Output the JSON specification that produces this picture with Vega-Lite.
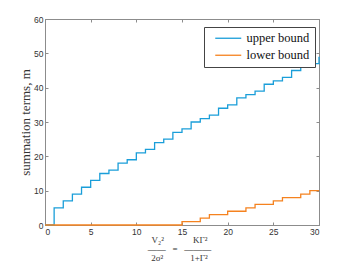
{
  "$schema": "https://vega.github.io/schema/vega-lite/v6.json",
  "width": 274,
  "height": 206,
  "autosize": {"type": "none"},
  "padding": {"left": 45, "top": 19, "right": 34, "bottom": 40},
  "background": "white",
  "config": {
    "view": {"stroke": "#8c8c8c", "strokeWidth": 1},
    "axis": {
      "grid": false,
      "domainColor": "#8c8c8c",
      "tickColor": "#8c8c8c",
      "tickSize": -3,
      "labelFont": "Liberation Sans",
      "labelFontSize": 8.5,
      "labelColor": "#333333",
      "titleFont": "Liberation Serif",
      "titleFontWeight": "normal",
      "titleColor": "#333333"
    }
  },
  "data": {
    "values": [
      {"x": 0, "m": 0, "bound": "upper bound"},
      {"x": 1, "m": 5, "bound": "upper bound"},
      {"x": 2, "m": 7, "bound": "upper bound"},
      {"x": 3, "m": 9, "bound": "upper bound"},
      {"x": 4, "m": 11, "bound": "upper bound"},
      {"x": 5, "m": 13, "bound": "upper bound"},
      {"x": 6, "m": 15, "bound": "upper bound"},
      {"x": 7, "m": 16, "bound": "upper bound"},
      {"x": 8, "m": 18, "bound": "upper bound"},
      {"x": 9, "m": 19, "bound": "upper bound"},
      {"x": 10, "m": 21, "bound": "upper bound"},
      {"x": 11, "m": 22, "bound": "upper bound"},
      {"x": 12, "m": 24, "bound": "upper bound"},
      {"x": 13, "m": 25, "bound": "upper bound"},
      {"x": 14, "m": 27, "bound": "upper bound"},
      {"x": 15, "m": 28, "bound": "upper bound"},
      {"x": 16, "m": 30, "bound": "upper bound"},
      {"x": 17, "m": 31, "bound": "upper bound"},
      {"x": 18, "m": 32, "bound": "upper bound"},
      {"x": 19, "m": 34, "bound": "upper bound"},
      {"x": 20, "m": 35, "bound": "upper bound"},
      {"x": 21, "m": 37, "bound": "upper bound"},
      {"x": 22, "m": 38, "bound": "upper bound"},
      {"x": 23, "m": 39, "bound": "upper bound"},
      {"x": 24, "m": 41, "bound": "upper bound"},
      {"x": 25, "m": 42, "bound": "upper bound"},
      {"x": 26, "m": 43, "bound": "upper bound"},
      {"x": 27, "m": 45, "bound": "upper bound"},
      {"x": 28, "m": 46, "bound": "upper bound"},
      {"x": 29, "m": 47, "bound": "upper bound"},
      {"x": 30, "m": 49, "bound": "upper bound"},
      {"x": 0, "m": 0, "bound": "lower bound"},
      {"x": 1, "m": 0, "bound": "lower bound"},
      {"x": 2, "m": 0, "bound": "lower bound"},
      {"x": 3, "m": 0, "bound": "lower bound"},
      {"x": 4, "m": 0, "bound": "lower bound"},
      {"x": 5, "m": 0, "bound": "lower bound"},
      {"x": 6, "m": 0, "bound": "lower bound"},
      {"x": 7, "m": 0, "bound": "lower bound"},
      {"x": 8, "m": 0, "bound": "lower bound"},
      {"x": 9, "m": 0, "bound": "lower bound"},
      {"x": 10, "m": 0, "bound": "lower bound"},
      {"x": 11, "m": 0, "bound": "lower bound"},
      {"x": 12, "m": 0, "bound": "lower bound"},
      {"x": 13, "m": 0, "bound": "lower bound"},
      {"x": 14, "m": 0, "bound": "lower bound"},
      {"x": 15, "m": 1, "bound": "lower bound"},
      {"x": 16, "m": 1, "bound": "lower bound"},
      {"x": 17, "m": 2, "bound": "lower bound"},
      {"x": 18, "m": 3, "bound": "lower bound"},
      {"x": 19, "m": 3, "bound": "lower bound"},
      {"x": 20, "m": 4, "bound": "lower bound"},
      {"x": 21, "m": 4, "bound": "lower bound"},
      {"x": 22, "m": 5, "bound": "lower bound"},
      {"x": 23, "m": 6, "bound": "lower bound"},
      {"x": 24, "m": 6, "bound": "lower bound"},
      {"x": 25, "m": 7, "bound": "lower bound"},
      {"x": 26, "m": 8, "bound": "lower bound"},
      {"x": 27, "m": 8, "bound": "lower bound"},
      {"x": 28, "m": 9, "bound": "lower bound"},
      {"x": 29, "m": 10, "bound": "lower bound"},
      {"x": 30, "m": 10, "bound": "lower bound"}
    ]
  },
  "layer": [
    {
      "mark": {"type": "line", "interpolate": "step-after", "strokeWidth": 1.3, "clip": false},
      "encoding": {
        "x": {
          "field": "x", "type": "quantitative",
          "scale": {"domain": [0, 30], "nice": false},
          "axis": {
            "orient": "bottom", "values": [0, 5, 10, 15, 20, 25, 30], "labelPadding": 5,
            "title": ["V₂²\u00a0\u00a0\u00a0\u00a0\u00a0\u00a0\u00a0\u00a0\u00a0\u00a0\u00a0\u00a0\u00a0KΓ²", "——\u00a0\u00a0\u00a0=\u00a0\u00a0\u00a0———", "2σ²\u00a0\u00a0\u00a0\u00a0\u00a0\u00a0\u00a0\u00a0\u00a0\u00a0\u00a0\u00a01+Γ²"],
            "titleFontSize": 9, "titleLineHeight": 9, "titlePadding": 0, "titleX": 134
          }
        },
        "y": {
          "field": "m", "type": "quantitative",
          "scale": {"domain": [0, 60], "nice": false},
          "axis": {
            "orient": "left", "values": [0, 10, 20, 30, 40, 50, 60], "labelPadding": 5,
            "title": "summation terms, m", "titleFontSize": 13, "titlePadding": 1
          }
        },
        "color": {
          "field": "bound", "type": "nominal",
          "scale": {"domain": ["upper bound", "lower bound"], "range": ["#1a9ed9", "#f5821f"]},
          "legend": {
            "title": null, "orient": "none", "legendX": 159, "legendY": 8,
            "fillColor": "white", "strokeColor": "#444444", "padding": 5,
            "symbolType": "M0,0L13,0", "symbolSize": 16, "symbolStrokeWidth": 1.3,
            "symbolFillColor": "transparent",
            "labelFont": "Liberation Serif", "labelFontSize": 12.5, "labelColor": "#111111",
            "rowPadding": 4, "labelOffset": 25
          }
        }
      }
    },
    {
      "mark": {"type": "line", "opacity": 0},
      "encoding": {
        "x": {
          "field": "x", "type": "quantitative",
          "scale": {"domain": [0, 30], "nice": false},
          "axis": {"orient": "top", "values": [0, 5, 10, 15, 20, 25, 30], "labels": false, "title": null}
        },
        "y": {
          "field": "m", "type": "quantitative",
          "scale": {"domain": [0, 60], "nice": false},
          "axis": {"orient": "right", "values": [0, 10, 20, 30, 40, 50, 60], "labels": false, "title": null}
        }
      }
    }
  ],
  "resolve": {"axis": {"x": "independent", "y": "independent"}}
}
